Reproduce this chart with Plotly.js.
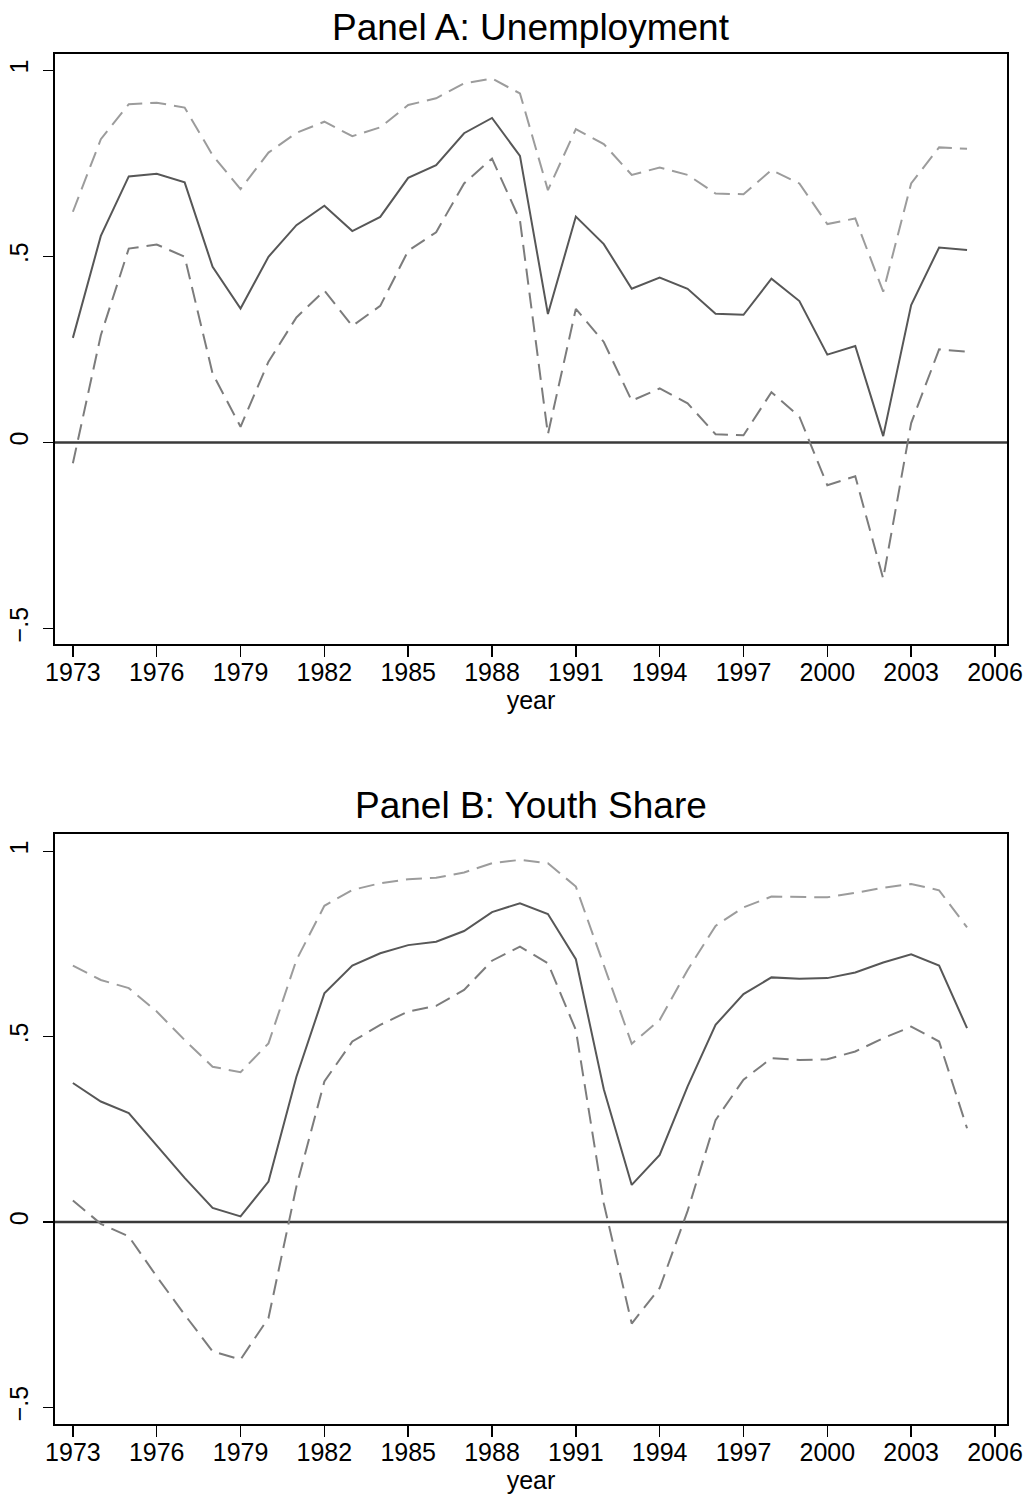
<!DOCTYPE html>
<html>
<head>
<meta charset="utf-8">
<script src="https://cdn.plot.ly/plotly-3.0.1.min.js"></script>
<style>
  html, body { margin: 0; padding: 0; background: #fff; }
  #chart { width: 1023px; height: 1495px; }
</style>
</head>
<body>
<div id="chart"></div>
<script>
const years = [1973,1974,1975,1976,1977,1978,1979,1980,1981,1982,1983,1984,1985,1986,1987,1988,1989,
               1990,1991,1992,1993,1994,1995,1996,1997,1998,1999,2000,2001,2002,2003,2004,2005];

// Panel A: Unemployment
const unempCoef  = [0.281,0.555,0.715,0.722,0.699,0.472,0.360,0.499,0.584,0.636,0.568,0.606,0.711,0.745,0.831,0.872,0.770,
                    0.345,0.607,0.533,0.413,0.443,0.413,0.346,0.343,0.440,0.380,0.236,0.259,0.017,0.369,0.524,0.517];
const unempUpper = [0.620,0.815,0.909,0.913,0.900,0.772,0.681,0.779,0.832,0.862,0.823,0.847,0.907,0.925,0.965,0.978,0.938,
                    0.678,0.842,0.802,0.719,0.739,0.719,0.669,0.667,0.732,0.696,0.587,0.602,0.405,0.696,0.793,0.789];
const unempLower = [-0.056,0.288,0.521,0.532,0.499,0.185,0.042,0.217,0.336,0.408,0.313,0.367,0.515,0.565,0.696,0.763,0.597,
                    0.022,0.359,0.270,0.112,0.145,0.105,0.022,0.019,0.135,0.069,-0.115,-0.091,-0.366,0.052,0.250,0.244];

// Panel B: Youth Share
const youthCoef  = [0.375,0.325,0.294,0.206,0.119,0.038,0.015,0.109,0.392,0.617,0.692,0.725,0.747,0.756,0.785,0.836,0.860,
                    0.831,0.709,0.358,0.100,0.181,0.366,0.532,0.615,0.660,0.656,0.658,0.673,0.700,0.722,0.692,0.523];
const youthUpper = [0.692,0.653,0.631,0.568,0.491,0.419,0.404,0.482,0.707,0.853,0.896,0.914,0.925,0.929,0.943,0.968,0.977,
                    0.968,0.905,0.690,0.481,0.545,0.680,0.799,0.849,0.878,0.876,0.876,0.888,0.902,0.912,0.895,0.795];
const youthLower = [0.058,-0.005,-0.039,-0.147,-0.250,-0.349,-0.371,-0.259,0.096,0.379,0.487,0.532,0.568,0.583,0.626,0.705,0.743,
                    0.698,0.518,0.050,-0.274,-0.178,0.030,0.275,0.384,0.442,0.437,0.439,0.460,0.496,0.527,0.487,0.253];

const yTickVals = [-0.5, 0, 0.5, 1];
const yTickText = ["\u2212.5", "0", ".5", "1"];
const panelTitles = ["Panel A: Unemployment", "Panel B: Youth Share"];
const xTitle = "year";
const refLineValue = 0;

const FONT = "Liberation Sans, Arial, Helvetica, sans-serif";
const solidColor = "#575757";
const upperColor = "#9c9c9c";
const lowerColor = "#7c7c7c";
const DASH = "16px,8px";

function traces(coef, upper, lower, xa, ya) {
  return [
    {x: years, y: upper, xaxis: xa, yaxis: ya, type: "scatter", mode: "lines",
     line: {color: upperColor, width: 2, dash: DASH}, hoverinfo: "skip"},
    {x: years, y: lower, xaxis: xa, yaxis: ya, type: "scatter", mode: "lines",
     line: {color: lowerColor, width: 2, dash: DASH}, hoverinfo: "skip"},
    {x: years, y: coef, xaxis: xa, yaxis: ya, type: "scatter", mode: "lines",
     line: {color: solidColor, width: 2}, hoverinfo: "skip"}
  ];
}

const data = [].concat(
  traces(unempCoef, unempUpper, unempLower, "x", "y"),
  traces(youthCoef, youthUpper, youthLower, "x2", "y2")
);

function xAxis(anchor) {
  return {
    anchor: anchor, domain: [0, 1], range: [1972.36, 2006.43],
    tickmode: "linear", tick0: 1973, dtick: 3,
    ticks: "outside", ticklen: 11, tickwidth: 1.5, tickcolor: "#000",
    showline: true, linecolor: "#000", linewidth: 1.6, mirror: true,
    showgrid: false, zeroline: false, automargin: false,
    ticklabelstandoff: -6,
    tickfont: {family: FONT, size: 25, color: "#000"},
    title: {text: xTitle, font: {family: FONT, size: 25, color: "#000"}, standoff: 0}
  };
}
function yAxis(anchor, domain, range) {
  return {
    anchor: anchor, domain: domain, range: range,
    tickmode: "array", tickvals: yTickVals, ticktext: yTickText, tickangle: -90,
    ticks: "outside", ticklen: 10, tickwidth: 1.5, tickcolor: "#000",
    showline: true, linecolor: "#000", linewidth: 1.6, mirror: true,
    showgrid: false, zeroline: false,
    automargin: false, ticklabelstandoff: 5,
    tickfont: {family: FONT, size: 25, color: "#000"}
  };
}

function refLine(xref, yref) {
  return {type: "line", xref: xref + " domain", yref: yref, x0: 0, x1: 1,
          y0: refLineValue, y1: refLineValue, layer: "below",
          line: {color: "#3a3a3a", width: 2.5}};
}

const layout = {
  width: 1023, height: 1495,
  margin: {l: 55, r: 16, t: 54, b: 71, pad: 0},
  paper_bgcolor: "#fff", plot_bgcolor: "#fff",
  showlegend: false,
  font: {family: FONT, color: "#000"},
  xaxis: xAxis("y"),
  yaxis: yAxis("x", [0.5693, 1], [-0.542, 1.044]),
  xaxis2: xAxis("y2"),
  yaxis2: yAxis("x2", [0, 0.4307], [-0.545, 1.047]),
  shapes: [refLine("x", "y"), refLine("x2", "y2")],
  annotations: [
    {text: panelTitles[0], xref: "paper", yref: "paper", x: 0.5, y: 1.0197,
     xanchor: "center", yanchor: "middle", showarrow: false,
     font: {family: FONT, size: 37, color: "#000"}},
    {text: panelTitles[1], xref: "paper", yref: "paper", x: 0.5, y: 0.4511,
     xanchor: "center", yanchor: "middle", showarrow: false,
     font: {family: FONT, size: 37, color: "#000"}}
  ]
};

Plotly.newPlot("chart", data, layout, {staticPlot: true, displayModeBar: false});
</script>
</body>
</html>
